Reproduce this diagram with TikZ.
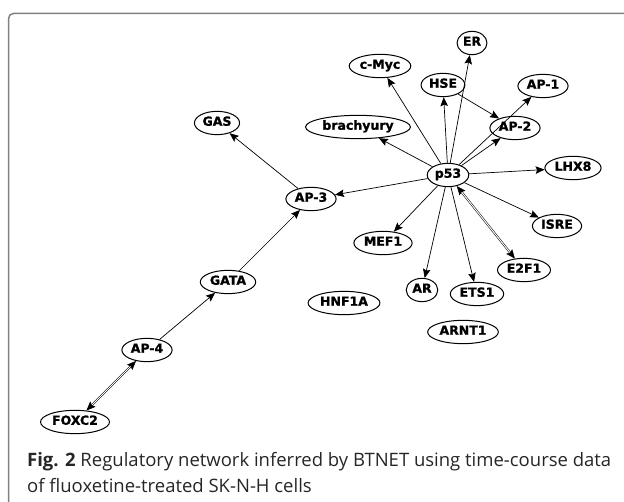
\documentclass[tikz,border=0pt]{standalone}
\usepackage{fontspec}
\setmainfont{Open Sans}
\newfontfamily\genefont{DejaVu Sans}[BoldFeatures={FakeBold=1.2}]
\usetikzlibrary{arrows.meta,shapes.geometric}
\tikzset{
    gene/.style={ellipse, draw, line width=1pt, fill=white, inner sep=1.5pt,
        text height=9.5pt, text depth=4pt,
        font=\genefont\bfseries\fontsize{12.5}{14}\selectfont},
    link/.style={line width=0.7pt, -{Stealth[length=9pt,width=7.5pt,inset=1.5pt]}},
    twoway/.style={line width=0.5pt, double, double distance=1pt,
        {Stealth[length=9pt,width=7.5pt,inset=1.5pt]}-{Stealth[length=9pt,width=7.5pt,inset=1.5pt]}},
    frame/.style={draw=gray, line width=1.5pt, rounded corners=5pt},
}

\begin{document}
\begin{tikzpicture}[x=1pt,y=-1pt]
      \useasboundingbox (0,0) rectangle (624,502);
      \draw[frame] (8.5,502) -- (8.5,13.5) -- (624,13.5);

      % p53 and its targets
      \node[gene] (p53) at (448,175) {p53};
      \node[gene] (er) at (472,43) {ER};
      \node[gene] (cmyc) at (380,66) {c-Myc};
      \node[gene] (hse) at (443,85) {HSE};
      \node[gene] (ap1) at (543,86) {AP-1};
      \node[gene] (brach) at (358,127) {brachyury};
      \node[gene] (ap2) at (515,128) {AP-2};
      \node[gene] (lhx8) at (573,168) {LHX8};
      \node[gene] (ap3) at (311,199) {AP-3};
      \node[gene] (mef1) at (383,243) {MEF1};
      \node[gene] (isre) at (557,226) {ISRE};
      \node[gene] (e2f1) at (524,270) {E2F1};
      \node[gene] (ar) at (422,290) {AR};
      \node[gene] (ets1) at (477,294) {ETS1};
      \node[gene] (hnf1a) at (344,303) {HNF1A};
      \node[gene] (arnt1) at (463,332) {ARNT1};

      % chain down to the left
      \node[gene] (gas) at (217,123) {GAS};
      \node[gene] (gata) at (228,282) {GATA};
      \node[gene] (ap4) at (147,350) {AP-4};
      \node[gene] (foxc2) at (75,422) {FOXC2};

      \foreach \t in {er,cmyc,hse,ap1,ap2,brach,lhx8,ap3,mef1,isre,ar,ets1}
      \draw[link] (p53) -- (\t);
      \draw[link] (hse) -- (ap2);
      \draw[twoway] (p53) -- (e2f1);
      \draw[link] (ap3) -- (gas);
      \draw[link] (gata) -- (ap3);
      \draw[link] (ap4) -- (gata);
      \draw[twoway] (ap4) -- (foxc2);

      \node[anchor=base west, inner sep=0pt, align=left, text=black!85,
        font=\fontsize{18.5}{26}\selectfont] (caption) at (27,492)
        {\textbf{Fig. 2} Regulatory network inferred by BTNET using time-course data\\
         of fluoxetine-treated SK-N-H cells};
\end{tikzpicture}
\end{document}
